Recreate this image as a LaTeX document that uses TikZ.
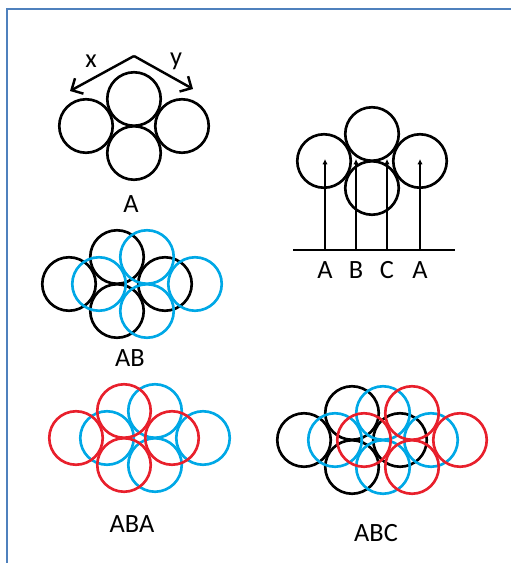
\documentclass[tikz,border=0pt]{standalone}
\usepackage{fontspec}
\setmainfont{Carlito}
\usepackage{xcolor}
\usepackage{tikz}
\usetikzlibrary{arrows.meta}
\definecolor{layerblue}{RGB}{0,168,230}
\definecolor{layerred}{RGB}{232,32,44}
\definecolor{framecol}{RGB}{79,129,189}
\tikzstyle{ball} = [line width=1.5pt]
\tikzstyle{label} = [font=\fontsize{15}{18}\selectfont, inner sep=0pt]
\tikzstyle{arrow} = [line width=1.4pt, -{Straight Barb[length=5pt,width=10pt]}]
\tikzstyle{stem} = [line width=1.3pt, -{Latex[length=3pt,width=3pt]}]
\tikzstyle{frame} = [line width=1.3pt, draw=framecol]

% four balls of one layer around (#2,#3)
\newcommand{\packlayer}[3]{%
    \foreach \dx/\dy in {-48/0, 0/-27, 0/27, 48/0}
        \draw[ball, #1] (#2+\dx, #3+\dy) circle (0.535cm);
}

\begin{document}
\begin{tikzpicture}[x=0.02cm, y=-0.02cm]
        \useasboundingbox (0,0) rectangle (511,563);
        \draw[frame] (7,563) -- (7,9) -- (511,9);

        % layer A with the two directions
        \packlayer{black}{134}{126}
        \coordinate (apex) at (134,56);
        \coordinate (xend) at (70,91);
        \coordinate (yend) at (193,89);
        \draw [arrow] (apex) -- (xend);
        \draw [arrow] (apex) -- (yend);
        \node (xlab) [label] at (91,61) {x};
        \node (ylab) [label] at (176,61) {y};
        \node (alab) [label] at (131,204) {A};

        % side view
        \packlayer{black}{372}{161}
        \coordinate (base_l) at (293,250);
        \coordinate (base_r) at (455,250);
        \draw[line width=1.3pt] (base_l) -- (base_r);
        \foreach \px/\name [count=\i] in {325/A, 356/B, 387/C, 420/A} {
            \coordinate (foot\i) at (\px,250);
            \coordinate (top\i) at (\px,159);
            \draw [stem] (foot\i) -- (top\i);
            \node (side\i) [label] at (\px,270) {\name};
        }

        % AB
        \packlayer{black}{117}{284}
        \packlayer{layerblue}{147}{284}
        \node (ablab) [label] at (130,358) {AB};

        % ABA
        \packlayer{layerblue}{155}{438}
        \packlayer{layerred}{124}{438}
        \node (abalab) [label] at (132,524) {ABA};

        % ABC
        \packlayer{black}{352}{440}
        \packlayer{layerblue}{383}{440}
        \packlayer{layerred}{412}{440}
        \node (abclab) [label] at (376,533) {ABC};
    \end{tikzpicture}
\end{document}
